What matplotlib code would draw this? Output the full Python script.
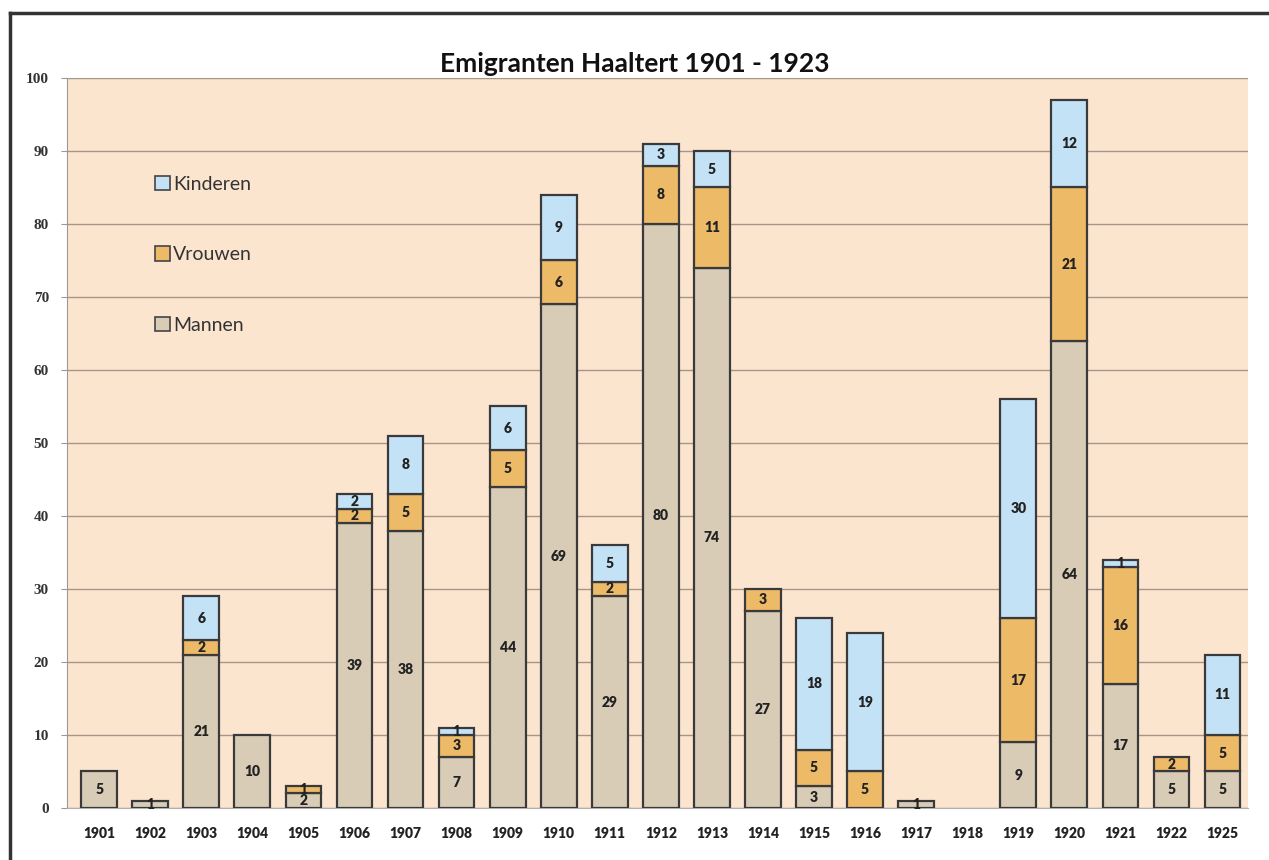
import matplotlib.pyplot as plt
import numpy as np
from matplotlib.patches import Patch
from matplotlib.lines import Line2D

years = ["1901", "1902", "1903", "1904", "1905", "1906", "1907", "1908", "1909", "1910",
         "1911", "1912", "1913", "1914", "1915", "1916", "1917", "1918", "1919", "1920",
         "1921", "1922", "1925"]
mannen = [5, 1, 21, 10, 2, 39, 38, 7, 44, 69, 29, 80, 74, 27, 3, 0, 1, 0, 9, 64, 17, 5, 5]
vrouwen = [0, 0, 2, 0, 1, 2, 5, 3, 5, 6, 2, 8, 11, 3, 5, 5, 0, 0, 17, 21, 16, 2, 5]
kinderen = [0, 0, 6, 0, 0, 2, 8, 1, 6, 9, 5, 3, 5, 0, 18, 19, 0, 0, 30, 12, 1, 0, 11]

c_man = "#D8CCB6"
c_vrouw = "#EDBA68"
c_kind = "#C3E2F6"
c_edge = "#3A3A3A"

fig = plt.figure(figsize=(12.69, 8.60), dpi=100)
ax = fig.add_axes([0.0528, 0.0605, 0.9307, 0.8488])
ax.set_facecolor("#FCE5CF")

x = np.arange(len(years))
w = 0.70
m = np.array(mannen)
v = np.array(vrouwen)
k = np.array(kinderen)

series = [(m, np.zeros(len(m)), c_man), (v, m, c_vrouw), (k, m + v, c_kind)]
for vals, bottom, col in series:
    for i in range(len(x)):
        if vals[i] == 0:
            continue
        ax.bar(x[i], vals[i], w, bottom=bottom[i], color=col, edgecolor=c_edge,
               linewidth=1.6, zorder=3)
        ax.text(x[i], bottom[i] + vals[i] / 2, str(vals[i]), ha="center", va="center",
                fontsize=10, fontweight="heavy", color="#222222", zorder=4,
                family="Lato")

ax.set_xlim(-0.63, 22.5)
ax.set_ylim(0, 100)
ax.set_yticks(range(0, 101, 10))
ax.set_xticks(x)
ax.set_xticklabels(years, fontsize=10, fontweight="heavy", family="Lato", color="#222222")
ax.tick_params(axis="x", length=0, pad=14)
ax.tick_params(axis="y", length=4, color="#999999", pad=9)
for lab in ax.get_yticklabels():
    lab.set_family("Liberation Serif")
    lab.set_fontweight("bold")
    lab.set_fontsize(11)
    lab.set_color("#333333")
ax.grid(axis="y", color="#A6968A", linewidth=1.0, zorder=1)
for s in ["top", "right"]:
    ax.spines[s].set_visible(False)
ax.spines["left"].set_color("#9A9A9A")
ax.spines["bottom"].set_color("#B0B0B0")

handles = [Patch(facecolor=c_kind, edgecolor="#444444", linewidth=1.2),
           Patch(facecolor=c_vrouw, edgecolor="#444444", linewidth=1.2),
           Patch(facecolor=c_man, edgecolor="#444444", linewidth=1.2)]
leg = ax.legend(handles, ["Kinderen", "Vrouwen", "Mannen"], loc="upper left",
                bbox_to_anchor=(0.060, 0.89), frameon=False, handlelength=0.75,
                handleheight=0.75, handletextpad=0.15, labelspacing=2.75,
                prop={"family": "Lato", "size": 14})
for t in leg.get_texts():
    t.set_color("#333333")

fig.text(0.5, 0.926, "Emigranten Haaltert 1901 - 1923", ha="center", va="center",
         fontsize=19, fontweight="bold", family="Lato", color="#111111")

# outer frame of the chart
fig.add_artist(Line2D([0.008, 0.008], [0.0, 0.985], color="#333333", linewidth=2.5,
                      transform=fig.transFigure))
fig.add_artist(Line2D([0.008, 1.0], [0.985, 0.985], color="#333333", linewidth=2.5,
                      transform=fig.transFigure))

fig.savefig("out.png", dpi=100)
